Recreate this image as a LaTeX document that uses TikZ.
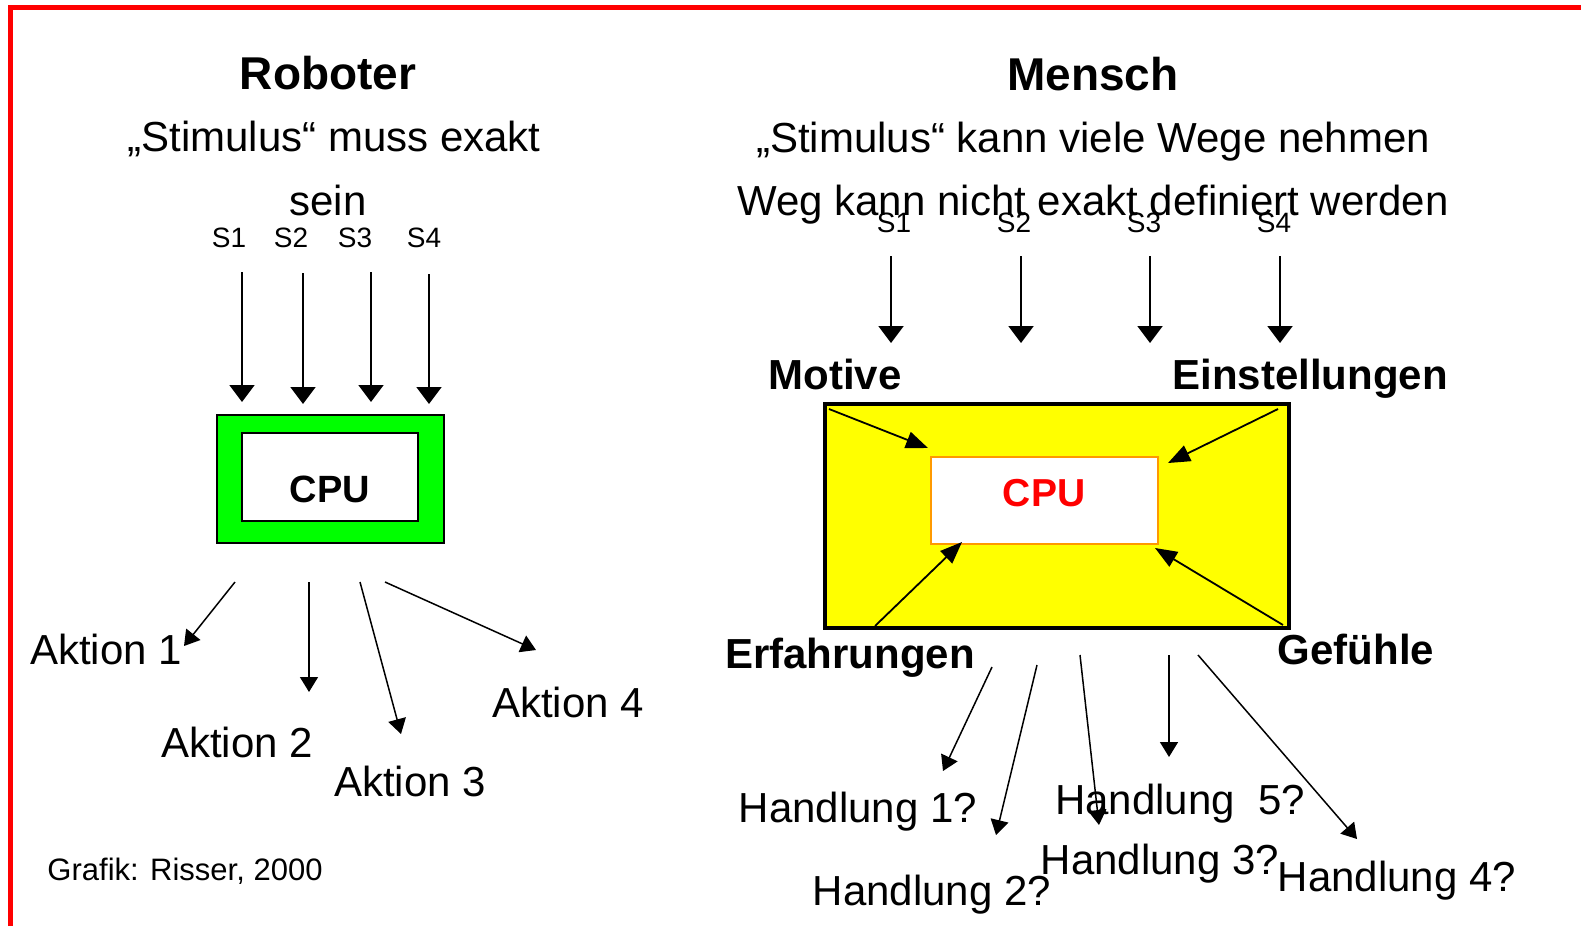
\documentclass[tikz,border=0pt]{standalone}
\usepackage{fontspec}
\setmainfont{Liberation Sans}
\usetikzlibrary{arrows.meta}

\definecolor{boxgreen}{RGB}{0,255,0}
\definecolor{boxyellow}{RGB}{255,255,0}
\definecolor{cpuframe}{RGB}{255,153,0}
\definecolor{pageframe}{RGB}{255,0,0}

\tikzset{
  txt/.style={inner sep=0pt, font=\fontsize{42}{48}\selectfont},
  title/.style={inner sep=0pt, font=\fontsize{46}{52}\selectfont\bfseries},
  label/.style={inner sep=0pt, font=\fontsize{42}{48}\selectfont\bfseries},
  stim/.style={inner sep=0pt, font=\fontsize{28}{32}\selectfont},
  inarrow/.style={line width=2pt, -{Triangle[width=25pt,length=17pt]}},
  corner/.style={line width=1.8pt, -{Triangle[width=17pt,length=22pt]}},
  outarrow/.style={line width=1.5pt, -{Triangle[width=18pt,length=15pt]}},
}

\begin{document}
\begin{tikzpicture}[x=1pt, y=-1pt]
    \useasboundingbox [fill=white] (0, 0) rectangle (1581, 926);

    % red page frame
    \draw [pageframe, line width=4.5pt] (10.5, 926) -- (10.5, 7.5) -- (1581, 7.5);

    % Roboter
    \node [title] (rtitle) at (328, 73) {Roboter};
    \node [txt] (rsub1) at (334, 139) {„Stimulus“ muss exakt};
    \node [txt] (rsub2) at (328, 200) {sein};

    \node [stim] (rs1) at (229, 238) {S1};
    \node [stim] (rs2) at (291, 238) {S2};
    \node [stim] (rs3) at (355, 238) {S3};
    \node [stim] (rs4) at (424, 238) {S4};

    \coordinate (rs1a) at (242, 272); \coordinate (rs1b) at (242, 402);
    \coordinate (rs2a) at (303, 273); \coordinate (rs2b) at (303, 404);
    \coordinate (rs3a) at (371, 272); \coordinate (rs3b) at (371, 402);
    \coordinate (rs4a) at (429, 274); \coordinate (rs4b) at (429, 404);
    \draw [inarrow] (rs1a) -- (rs1b);
    \draw [inarrow] (rs2a) -- (rs2b);
    \draw [inarrow] (rs3a) -- (rs3b);
    \draw [inarrow] (rs4a) -- (rs4b);

    % green cpu box
    \draw [fill=boxgreen, line width=2pt] (217, 415) rectangle (444, 543);
    \draw [fill=white, line width=2pt] (242, 433) rectangle (418, 521);
    \node [inner sep=0pt, font=\fontsize{38}{42}\selectfont\bfseries] (rcpu) at (330, 489) {CPU};

    % actions
    \node [txt] (akt1) at (106, 649) {Aktion 1};
    \node [txt] (akt2) at (237, 742) {Aktion 2};
    \node [txt] (akt3) at (410, 781) {Aktion 3};
    \node [txt] (akt4) at (568, 702) {Aktion 4};

    \coordinate (ra1) at (235, 582); \coordinate (rb1) at (184, 646);
    \coordinate (ra2) at (309, 582); \coordinate (rb2) at (309, 692);
    \coordinate (ra3) at (360, 582); \coordinate (rb3) at (401, 734);
    \coordinate (ra4) at (385, 582); \coordinate (rb4) at (536, 650);
    \draw [outarrow] (ra1) -- (rb1);
    \draw [outarrow] (ra2) -- (rb2);
    \draw [outarrow] (ra3) -- (rb3);
    \draw [outarrow] (ra4) -- (rb4);

    \node [inner sep=0pt, font=\fontsize{31}{36}\selectfont] (source) at (185, 871) {Grafik: Risser, 2000};

    % Mensch
    \node [title] (mtitle) at (1093, 74) {Mensch};
    \node [txt] (msub1) at (1093, 142) {„Stimulus“ kann viele Wege nehmen};
    \node [txt] (msub2) at (1093, 205) {Weg kann nicht exakt definiert werden};

    \node [stim] (ms1) at (894, 223) {S1};
    \node [stim] (ms2) at (1014, 223) {S2};
    \node [stim] (ms3) at (1144, 223) {S3};
    \node [stim] (ms4) at (1274, 223) {S4};

    \coordinate (ms1a) at (891, 256);  \coordinate (ms1b) at (891, 343);
    \coordinate (ms2a) at (1021, 256); \coordinate (ms2b) at (1021, 343);
    \coordinate (ms3a) at (1150, 256); \coordinate (ms3b) at (1150, 343);
    \coordinate (ms4a) at (1280, 256); \coordinate (ms4b) at (1280, 343);
    \draw [inarrow] (ms1a) -- (ms1b);
    \draw [inarrow] (ms2a) -- (ms2b);
    \draw [inarrow] (ms3a) -- (ms3b);
    \draw [inarrow] (ms4a) -- (ms4b);

    \node [label] (motive) at (835, 374) {Motive};
    \node [label] (einst) at (1310, 379) {Einstellungen};

    % yellow box with the cpu inside
    \draw [fill=boxyellow, line width=4.5pt] (825, 404) rectangle (1289, 628);
    \draw [fill=white, draw=cpuframe, line width=1.5pt] (931, 457) rectangle (1158, 544);
    \node [inner sep=0pt, text=red, font=\fontsize{39}{44}\selectfont\bfseries] (mcpu) at (1044, 493) {CPU};

    \coordinate (mtl) at (829, 409);  \coordinate (mtlb) at (928, 448);
    \coordinate (mtr) at (1278, 409); \coordinate (mtrb) at (1168, 463);
    \coordinate (mbl) at (875, 626);  \coordinate (mblb) at (962, 542);
    \coordinate (mbr) at (1283, 625); \coordinate (mbrb) at (1155, 548);
    \draw [corner] (mtl) -- (mtlb);
    \draw [corner] (mtr) -- (mtrb);
    \draw [corner] (mbl) -- (mblb);
    \draw [corner] (mbr) -- (mbrb);

    \node [label] (erfahr) at (850, 658) {Erfahrungen};
    \node [label] (gefuehl) at (1356, 649) {Gefühle};

    % handlungen
    \node [txt] (hand1) at (858, 812) {Handlung 1?};
    \node [txt] (hand2) at (932, 895) {Handlung 2?};
    \node [txt] (hand3) at (1160, 864) {Handlung 3?};
    \node [txt] (hand5) at (1180, 804) {Handlung\ \ 5?};
    \node [txt] (hand4) at (1397, 881) {Handlung 4?};

    \coordinate (ma1) at (992, 667);  \coordinate (mb1) at (943, 771);
    \coordinate (ma2) at (1037, 665); \coordinate (mb2) at (996, 835);
    \coordinate (ma3) at (1080, 655); \coordinate (mb3) at (1099, 825);
    \coordinate (ma5) at (1169, 655); \coordinate (mb5) at (1169, 757);
    \coordinate (ma4) at (1198, 655); \coordinate (mb4) at (1357, 839);
    \draw [outarrow] (ma1) -- (mb1);
    \draw [outarrow] (ma2) -- (mb2);
    \draw [outarrow] (ma3) -- (mb3);
    \draw [outarrow] (ma5) -- (mb5);
    \draw [outarrow] (ma4) -- (mb4);

\end{tikzpicture}
\end{document}
